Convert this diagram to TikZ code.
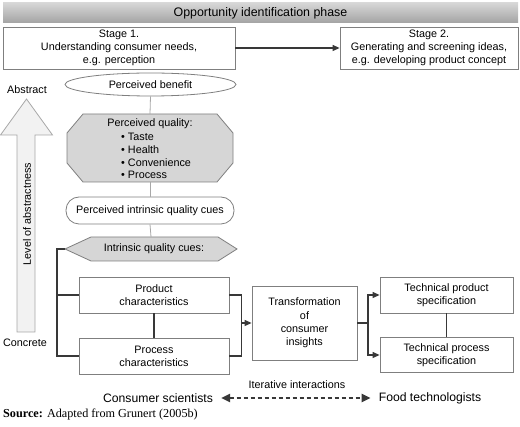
\documentclass[tikz,border=0pt]{standalone}
\usepackage{fontspec}
\setmainfont{Liberation Sans}
\newfontfamily\srcfont{Liberation Serif}
\usetikzlibrary{shapes.geometric,arrows.meta,calc}
\definecolor{boxgray}{HTML}{7F7F7F}
\definecolor{darkline}{HTML}{383838}
\definecolor{lightline}{HTML}{A8A8A8}
\definecolor{shapefill}{HTML}{D6D6D6}
\begin{document}
\begin{tikzpicture}[x=1pt,y=-1pt,
  every node/.style={font=\fontsize{10.8}{13.2}\selectfont, align=center, inner sep=0pt},
  plainbox/.style={draw=boxgray, line width=0.8pt, fill=white},
  greyshape/.style={draw=boxgray, line width=0.8pt, fill=shapefill},
  conn/.style={draw=darkline, line width=1.1pt},
  lconn/.style={draw=lightline, line width=0.8pt},
  tip/.style={-{Triangle[length=7pt,width=6pt]}},
  biglabel/.style={font=\fontsize{12.2}{14}\selectfont}
]
\useasboundingbox (0,0) rectangle (520,427);

% banner
\node[minimum width=515pt, minimum height=20pt, top color=black!16, bottom color=black!36,
      font=\fontsize{12.4}{14}\selectfont] (banner) at (260.5,13) {Opportunity identification phase};

% stages
\node[plainbox, minimum width=232pt, minimum height=42pt] (s1) at (119,48)
  {Stage 1.\\Understanding consumer needs,\\e.g. perception};
\node[plainbox, minimum width=178pt, minimum height=42pt] (s2) at (429,48)
  {Stage 2.\\Generating and screening ideas,\\e.g. developing product concept};
\draw[conn, tip] (s1) -- (s2);

% level of abstractness arrow
\draw[draw=lightline, line width=0.8pt, fill=black!5]
  (17,332) -- (17,135) -- (0.5,135) -- (26.5,99) -- (52.5,135) -- (35,135) -- (35,332) -- cycle;
\node (abs) at (27,90) {Abstract};
\node (con) at (25,343) {Concrete};
\node[rotate=90] (lev) at (27,214) {Level of abstractness};

% perceived benefit
\node[ellipse, plainbox, minimum width=171pt, minimum height=23pt] (pb) at (150.5,84.5) {Perceived benefit};

% perceived quality octagon
\node[minimum width=166pt, minimum height=68pt] (pq) at (150,148) {};
\draw[greyshape] (83,114) -- (217,114) -- (233,133) -- (233,163) -- (217,182) -- (83,182) -- (67,163) -- (67,133) -- cycle;
\node (pqtitle) at (150,124) {Perceived quality:};
\node[anchor=west, align=left, font=\fontsize{10.8}{12.75}\selectfont] (pqlist) at (121,156)
  {\textbullet\ Taste\\\textbullet\ Health\\\textbullet\ Convenience\\\textbullet\ Process};

% perceived intrinsic quality cues
\node[plainbox, rounded corners=13pt, minimum width=168pt, minimum height=27pt] (piqc) at (150,210.5)
  {Perceived intrinsic quality cues};

% intrinsic quality cues hexagon
\node[minimum width=172pt, minimum height=24pt] (iqc) at (151,249) {};
\draw[greyshape] (65,249) -- (91,237) -- (218,237) -- (237,249) -- (218,261) -- (91,261) -- cycle;
\node (iqctext) at (154,249) {Intrinsic quality cues:};

\draw[lconn] (pb.south) -- (pq.north);
\draw[lconn] (pq.south) -- (piqc.north);
\draw[lconn] (piqc.south) -- (iqc.north);

% characteristics
\node[plainbox, minimum width=150pt, minimum height=36pt] (pc) at (154,295) {Product\\characteristics};
\node[plainbox, minimum width=150pt, minimum height=36pt] (prc) at (154,356) {Process\\characteristics};
\coordinate (lt) at (57,249);
\coordinate (lm) at (57,295);
\draw[conn] (iqc.west) -- (lt) |- (prc.west);
\draw[conn] (lm) -- (pc.west);
\draw[conn] (pc) -- (prc);

% transformation
\node[plainbox, minimum width=105pt, minimum height=74pt] (tr) at (304.5,323)
  {Transformation\\of\\consumer\\insights};
\coordinate (rj) at (241,323);
\draw[conn] (pc.east) -- ++(12,0) |- (prc.east);
\draw[conn, tip] (rj) -- (tr.west);

% technical specs
\node[plainbox, minimum width=133pt, minimum height=36pt] (tp) at (446.5,295) {Technical product\\specification};
\node[plainbox, minimum width=133pt, minimum height=35pt] (tpr) at (446.5,355) {Technical process\\specification};
\coordinate (tj) at (368,323);
\draw[conn] (tr.east) -- (tj);
\draw[conn, tip] (tj) |- (tp.west);
\draw[conn, tip] (tj) |- (tpr.west);
\draw[conn] (tp) -- (tpr);

% bottom interactions
\node[biglabel] (cs) at (158,398) {Consumer scientists};
\node[biglabel] (ft) at (430,398) {Food technologists};
\node (it) at (297,385) {Iterative interactions};
\draw[draw=darkline, line width=2.3pt, dash pattern=on 4.5pt off 2.5pt,
      {Triangle[length=9pt,width=8pt]}-{Triangle[length=9pt,width=8pt]}]
  ([xshift=8pt]cs.east) -- ([xshift=-8pt]ft.west);

% source
\node[anchor=west, font=\srcfont\fontsize{12.2}{14}\selectfont] (src) at (3,415)
  {\textbf{Source:} Adapted from Grunert (2005b)};
\end{tikzpicture}
\end{document}
